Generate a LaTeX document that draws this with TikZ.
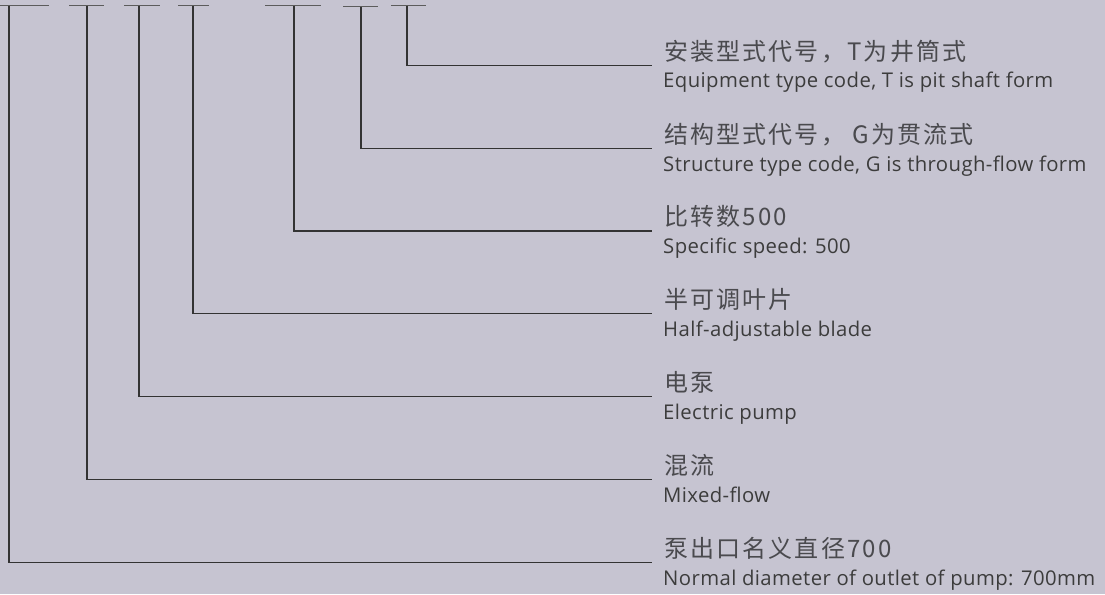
\documentclass[tikz,border=0pt]{standalone}
\usepackage{fontspec}
\setmainfont{Open Sans}[LetterSpace=2]
\newfontfamily\cjk{Noto Sans CJK SC}[LetterSpace=9]
\definecolor{bgc}{HTML}{C6C4D1}
\definecolor{inkc}{HTML}{333333}
\definecolor{txtc}{HTML}{3C3C3C}
\definecolor{cntxtc}{HTML}{4A4A4E}
\tikzset{
  codebar/.style={draw=inkc!80,line width=1pt},
  leader/.style={draw=inkc,line width=1.5pt},
  cnlabel/.style={anchor=base west,inner sep=0pt,text=cntxtc,font=\cjk\fontsize{24}{24}\selectfont},
  enlabel/.style={anchor=base west,inner sep=0pt,text=txtc,font=\fontsize{20.3}{20.3}\selectfont}
}
\begin{document}
\begin{tikzpicture}[x=1pt,y=-1pt]
\fill[bgc] (0,0) rectangle (1105,594);
\useasboundingbox (0,0) rectangle (1105,594);

\draw[codebar] (0,6) -- (49,6);
\draw[codebar] (69,6) -- (104,6);
\draw[codebar] (124,6) -- (160,6);
\draw[codebar] (178,6) -- (209,6);
\draw[codebar] (265,6) -- (321,6);
\draw[codebar] (343,7) -- (378,7);
\draw[codebar] (391,6) -- (426,6);

\coordinate (tdiam) at (9,6);
\coordinate (tflow) at (87,6);
\coordinate (tpump) at (139,6);
\coordinate (tblade) at (193,6);
\coordinate (tspeed) at (294,6);
\coordinate (tstruct) at (361,7);
\coordinate (tinst) at (407,6);

\coordinate (einst) at (652,65.5);
\coordinate (estruct) at (652,148.5);
\coordinate (espeed) at (652,231);
\coordinate (eblade) at (652,313.5);
\coordinate (epump) at (652,396.5);
\coordinate (eflow) at (652,479.5);
\coordinate (ediam) at (652,562.5);

\draw[leader] (tinst) |- (einst);
\draw[leader] (tstruct) |- (estruct);
\draw[leader] (tspeed) |- (espeed);
\draw[leader] (tblade) |- (eblade);
\draw[leader] (tpump) |- (epump);
\draw[leader] (tflow) |- (eflow);
\draw[leader] (tdiam) |- (ediam);

\node[cnlabel] (cinst) at (664,60) {安装型式代号，T为井筒式};
\node[enlabel] (ninst) at (663,88) {Equipment type code, T is pit shaft form};
\node[cnlabel] (cstruct) at (664,143) {结构型式代号， G为贯流式};
\node[enlabel] (nstruct) at (663,171) {Structure type code, G is through-flow form};
\node[cnlabel] (cspeed) at (664,225.5) {比转数500};
\node[enlabel] (nspeed) at (663,253.5) {Specific speed: 500};
\node[cnlabel] (cblade) at (664,308) {半可调叶片};
\node[enlabel] (nblade) at (663,336) {Half-adjustable blade};
\node[cnlabel] (cpump) at (664,391) {电泵};
\node[enlabel] (npump) at (663,419) {Electric pump};
\node[cnlabel] (cflow) at (664,474) {混流};
\node[enlabel] (nflow) at (663,502) {Mixed-flow};
\node[cnlabel] (cdiam) at (664,557) {泵出口名义直径700};
\node[enlabel] (ndiam) at (663,585) {Normal diameter of outlet of pump: 700mm};
\end{tikzpicture}
\end{document}
